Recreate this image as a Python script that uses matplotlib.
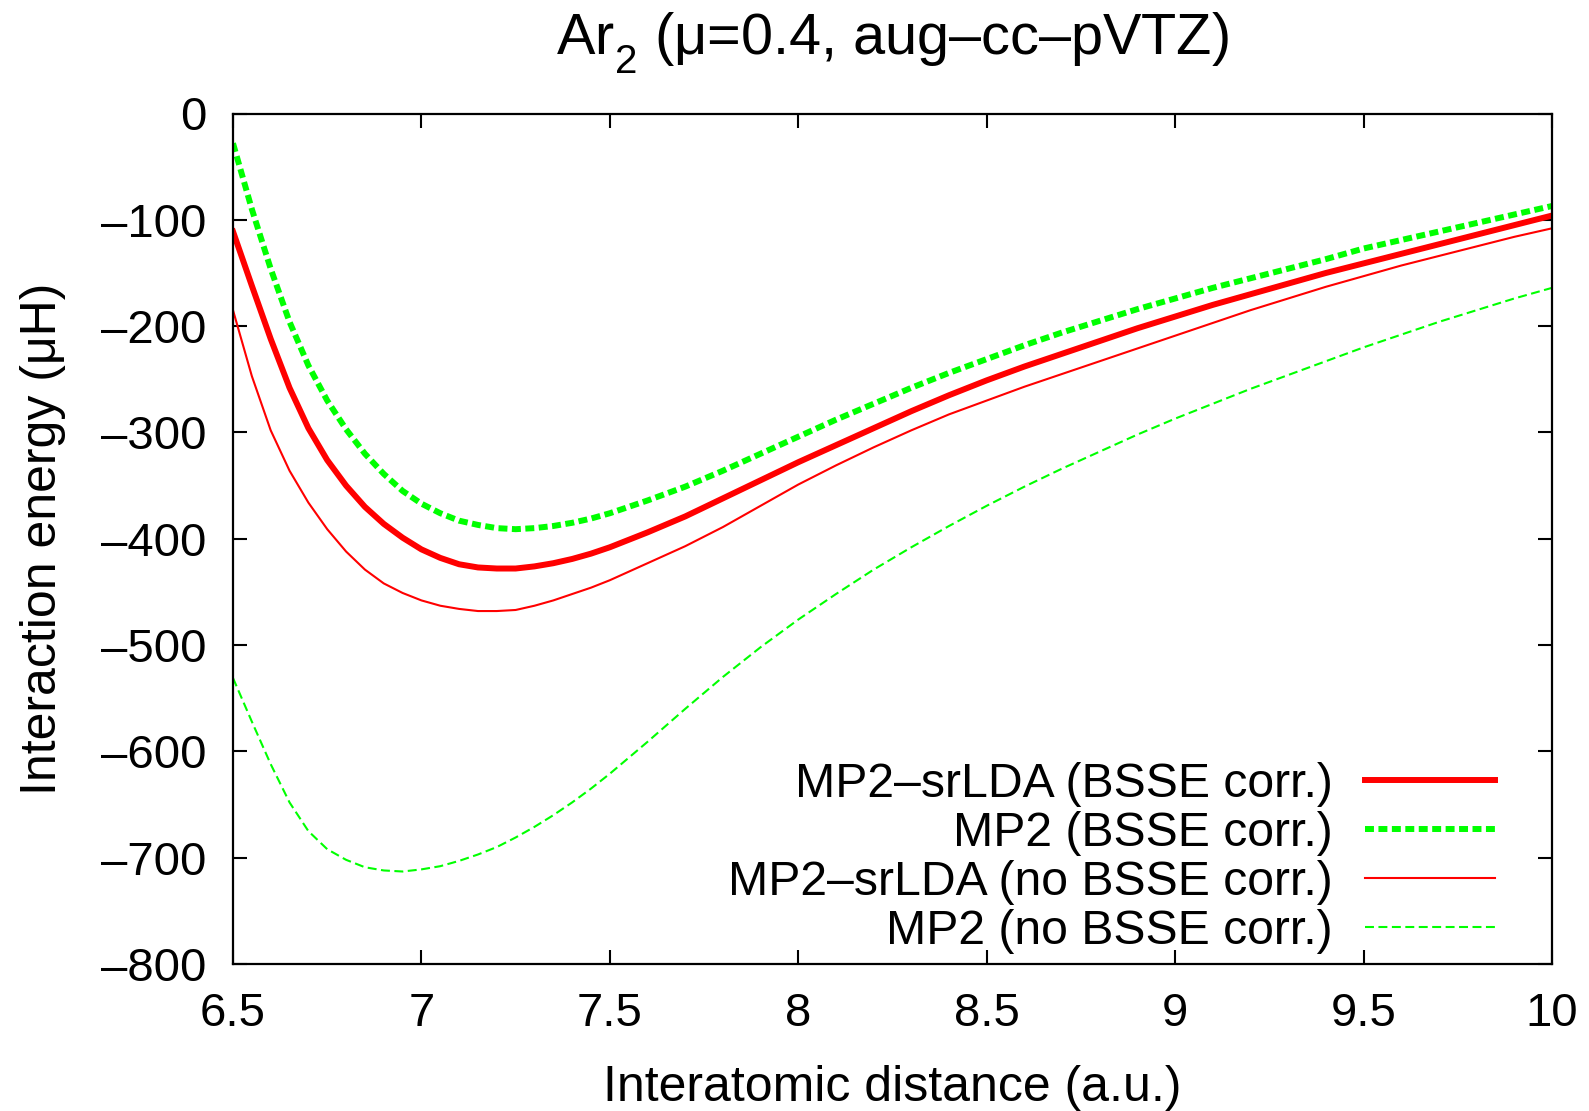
import matplotlib
matplotlib.use("Agg")
import matplotlib.pyplot as plt
import matplotlib._mathtext as _mt

# ---- data ----
r = [6.5, 6.55, 6.6, 6.65, 6.7, 6.75, 6.8, 6.85, 6.9, 6.95, 7.0, 7.05, 7.1,
     7.15, 7.2, 7.25, 7.3, 7.35, 7.4, 7.45, 7.5, 7.55, 7.6, 7.7, 7.8, 7.9,
     8.0, 8.1, 8.2, 8.3, 8.4, 8.5, 8.6, 8.7, 8.8, 8.9, 9.0, 9.1, 9.2, 9.3,
     9.4, 9.5, 9.6, 9.7, 9.8, 9.9, 10.0]

srlda_bsse = [-111, -162, -212, -258, -296, -326, -350, -370, -386, -399,
              -410, -418, -424, -427, -428, -428, -426, -423, -419, -414,
              -408, -401, -394, -379, -362, -345, -328, -312, -296, -280,
              -265, -251, -238, -226, -214, -202, -191, -180, -170, -160,
              -150, -141, -132, -123, -114, -105, -96]
mp2_bsse = [-28, -90, -146, -196, -237, -270, -297, -320, -339, -355,
            -367, -376, -383, -387, -390, -391, -390, -388, -385, -381,
            -376, -370, -364, -351, -336, -320, -304, -288, -273, -258,
            -244, -231, -218, -206, -195, -184, -174, -164, -155, -146,
            -137, -127, -119, -111, -103, -95, -87]
srlda_nobsse = [-185, -247, -298, -336, -366, -391, -412, -429, -442, -451,
                -458, -463, -466, -468, -468, -467, -463, -458, -452, -446,
                -439, -431, -423, -407, -389, -369, -349, -331, -314, -298,
                -283, -270, -257, -245, -233, -221, -209, -197, -185, -174,
                -163, -153, -143, -134, -125, -116, -108]
mp2_nobsse = [-531, -572, -612, -648, -675, -692, -702, -709, -712, -713,
              -711, -708, -703, -697, -690, -681, -671, -660, -648, -635,
              -621, -606, -591, -560, -530, -502, -476, -452, -429, -408,
              -388, -369, -351, -334, -318, -302, -287, -273, -259, -246,
              -233, -220, -208, -196, -185, -174, -164]

labels = ["MP2\u2013srLDA (BSSE corr.)", "MP2 (BSSE corr.)",
          "MP2\u2013srLDA (no BSSE corr.)", "MP2 (no BSSE corr.)"]

xticks = [6.5, 7, 7.5, 8, 8.5, 9, 9.5, 10]
xticklabels = ["6.5", "7", "7.5", "8", "8.5", "9", "9.5", "10"]
yticks = [0, -100, -200, -300, -400, -500, -600, -700, -800]
yticklabels = ["0", "\u2013100", "\u2013200", "\u2013300", "\u2013400",
               "\u2013500", "\u2013600", "\u2013700", "\u2013800"]

title = "Ar$_\\mathregular{2}$ (\u03bc=0.4, aug\u2013cc\u2013pVTZ)"
xlabel = "Interatomic distance (a.u.)"
ylabel = "Interaction energy (\u03bcH)"

# ---- style ----
plt.rcParams['font.family'] = ['Liberation Sans', 'DejaVu Sans']
plt.rcParams['mathtext.fontset'] = 'custom'
plt.rcParams['mathtext.rm'] = 'Liberation Sans'
try:
    _mt.FontConstantsBase.sub1 = 0.6
except Exception:
    pass

fig = plt.figure(figsize=(15.89, 11.11), dpi=100)
ax = fig.add_axes([233 / 1589, 1 - 964 / 1111, (1552 - 233) / 1589, (964 - 113.5) / 1111])

red = "#ff0000"
green = "#00ff00"

ax.plot(r, srlda_bsse, color=red, lw=4.3, solid_joinstyle='round', label=labels[0])
ax.plot(r, mp2_bsse, color=green, lw=4.3, dashes=(1.5, 0.75), label=labels[1])
ax.plot(r, srlda_nobsse, color=red, lw=1.5, solid_joinstyle='round', label=labels[2])
ax.plot(r, mp2_nobsse, color=green, lw=1.5, dashes=(4.3, 2.15), label=labels[3])

ax.set_xlim(6.5, 10)
ax.set_ylim(-800, 0)
ax.set_xticks(xticks)
ax.set_xticklabels(xticklabels)
ax.set_yticks(yticks)
ax.set_yticklabels(yticklabels)

ax.tick_params(direction='in', length=10, width=1.5, top=True, right=True,
               labelsize=34)
ax.tick_params(axis='y', pad=19)
ax.tick_params(axis='x', pad=20)
for s in ax.spines.values():
    s.set_linewidth(1.6)

ax.set_title(title, fontsize=41.5, pad=42)
ax.set_xlabel(xlabel, fontsize=36, labelpad=21)
ax.set_ylabel(ylabel, fontsize=36, labelpad=25)

leg = ax.legend(loc='lower right', bbox_to_anchor=(0.9568, 0.012),
                frameon=False, fontsize=34.7, markerfirst=False,
                handlelength=2.7, handletextpad=0.66, labelspacing=0.08,
                borderpad=0, borderaxespad=0)

fig.savefig("out.png", dpi=100)
